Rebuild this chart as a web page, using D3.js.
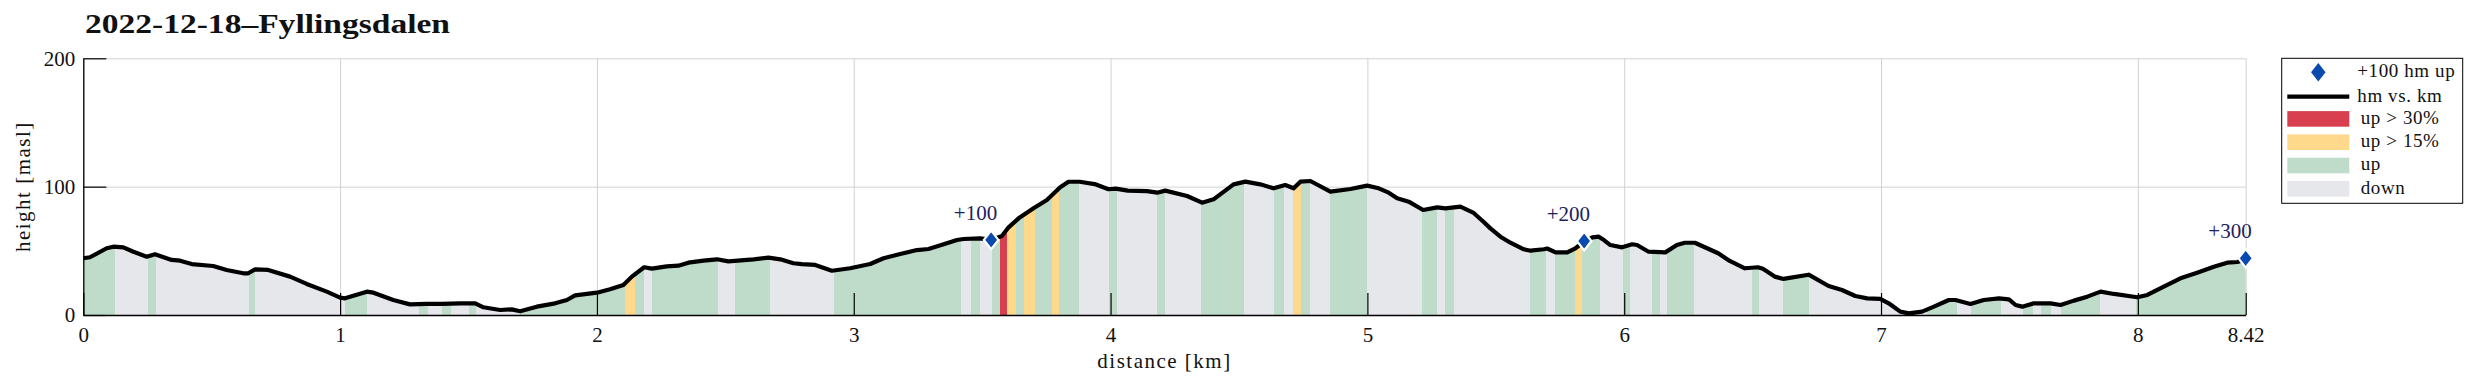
<!DOCTYPE html>
<html>
<head>
<meta charset="utf-8">
<script src="https://cdn.jsdelivr.net/npm/d3@7"></script>
<style>
  body { margin: 0; background: #fff; }
  text { font-family: "Liberation Serif", "Times New Roman", serif; fill: #111; }
</style>
</head>
<body>
<script>
// elevation profile (km, metres above sea level)
var profileKm = [0.000, 0.026, 0.091, 0.117, 0.156, 0.195, 0.247, 0.279, 0.344, 0.377, 0.422, 0.506, 0.558, 0.623, 0.642, 0.669, 0.720, 0.805, 0.870, 0.948,
  1.000, 1.019, 1.104, 1.130, 1.207, 1.272, 1.337, 1.396, 1.467, 1.526, 1.558, 1.623, 1.668, 1.701, 1.766, 1.837, 1.883, 1.915,
  2.000, 2.051, 2.103, 2.136, 2.184, 2.214, 2.272, 2.317, 2.356, 2.415, 2.467, 2.512, 2.610, 2.668, 2.714, 2.765, 2.798, 2.850, 2.915, 2.986,
  3.064, 3.116, 3.181, 3.246, 3.291, 3.350, 3.402, 3.427, 3.492, 3.535, 3.577, 3.603, 3.642, 3.700, 3.752, 3.804, 3.836, 3.880, 3.938, 3.992,
  4.020, 4.067, 4.142, 4.181, 4.213, 4.298, 4.356, 4.401, 4.479, 4.525, 4.583, 4.635, 4.680, 4.713, 4.739, 4.778, 4.856, 4.934, 4.999,
  5.044, 5.083, 5.116, 5.161, 5.217, 5.272, 5.304, 5.362, 5.414, 5.453, 5.479, 5.518, 5.557, 5.609, 5.635, 5.687, 5.700, 5.733, 5.778, 5.810, 5.844, 5.876, 5.901, 5.921, 5.946, 5.992,
  6.031, 6.050, 6.095, 6.160, 6.205, 6.236, 6.275, 6.366, 6.411, 6.470, 6.521, 6.540, 6.586, 6.620, 6.718, 6.796, 6.848, 6.900, 6.946, 6.997,
  7.030, 7.075, 7.108, 7.160, 7.206, 7.264, 7.290, 7.348, 7.400, 7.459, 7.498, 7.524, 7.550, 7.595, 7.660, 7.699, 7.751, 7.803, 7.855, 7.907, 7.998,
  8.037, 8.101, 8.166, 8.231, 8.296, 8.348, 8.388, 8.420];
var profileM = [44.2, 45.0, 52.0, 53.2, 52.7, 49.3, 45.4, 47.3, 42.9, 42.3, 39.7, 38.2, 35.1, 32.5, 32.5, 35.6, 35.1, 29.9, 24.2, 18.2,
  13.5, 13.0, 18.2, 17.4, 11.7, 8.3, 8.6, 8.6, 9.1, 9.1, 6.0, 3.9, 4.4, 2.9, 6.5, 9.1, 11.7, 15.3,
  17.4, 20.0, 23.4, 29.9, 37.2, 36.1, 37.9, 38.4, 40.8, 42.3, 43.4, 41.8, 43.4, 44.7, 43.4, 40.3, 39.7, 39.0, 34.5, 36.4,
  39.7, 44.2, 47.5, 50.6, 51.4, 55.1, 58.4, 59.2, 59.7, 58.5, 61.6, 68.3, 75.3, 83.1, 89.6, 99.5, 103.8, 103.8, 102.0, 98.0,
  98.5, 96.9, 96.5, 95.3, 96.9, 92.7, 87.5, 90.1, 101.8, 103.9, 101.8, 98.7, 101.3, 98.7, 103.9, 104.4, 96.1, 98.2, 100.8,
  98.7, 95.3, 90.9, 88.3, 81.8, 83.9, 83.1, 84.4, 79.5, 72.5, 67.5, 61.0, 56.3, 51.2, 50.1, 51.2, 51.8, 48.8, 48.8, 52.0, 57.0, 60.5, 61.0, 58.4, 54.5, 52.7,
  55.1, 54.5, 49.3, 48.8, 54.5, 56.3, 56.3, 48.1, 42.1, 36.4, 37.2, 36.0, 29.9, 28.1, 31.4, 22.6, 19.5, 14.8, 13.0, 12.5,
  9.1, 2.6, 1.3, 2.6, 6.5, 11.7, 11.7, 8.6, 11.7, 13.0, 12.2, 7.8, 6.5, 9.1, 9.1, 7.8, 11.2, 14.3, 18.2, 16.4, 13.8,
  15.6, 22.1, 28.6, 33.0, 37.6, 40.8, 41.3, 43.5];

// slope classes along the route: edges in km, one class per interval
var bandEdges = [0, 0.123, 0.251, 0.283, 0.645, 0.669, 1.019, 1.104, 1.307, 1.341, 1.398, 1.431, 1.500, 1.530, 1.700,
  2.111, 2.148, 2.184, 2.215, 2.471, 2.538, 2.672, 2.925, 3.419, 3.458, 3.492, 3.538, 3.570, 3.598, 3.633, 3.664, 3.707, 3.772, 3.801, 3.878, 3.992,
  4.025, 4.181, 4.210, 4.354, 4.521, 4.638, 4.677, 4.710, 4.742, 4.778, 4.853, 4.999, 5.214, 5.272, 5.304, 5.339, 5.635, 5.697, 5.729, 5.810, 5.836, 5.907, 5.995,
  6.021, 6.110, 6.138, 6.167, 6.273, 6.498, 6.525, 6.620, 6.720, 7.178, 7.295, 7.352, 7.468, 7.553, 7.592, 7.621, 7.663, 7.699, 7.851, 7.992, 8.42];
var bandKinds = ["up", "down", "up", "down", "up", "down", "up", "down", "up", "down", "up", "down", "up", "down",
  "up", "up15", "up", "down", "up", "down", "up", "down", "up", "down", "up", "down", "up", "up30", "up15", "up", "up15", "up", "up15", "up", "down",
  "up", "down", "up", "down", "up", "down", "up", "down", "up15", "up", "down", "up", "down", "up", "down", "up", "down", "up", "down", "up", "up15", "up", "down",
  "up", "down", "up", "down", "up", "down", "up", "down", "up", "down", "up", "down", "up", "down", "up", "down", "up", "down", "up", "down", "up"];

// every +100 m of climbing
var markerKm = [3.535, 5.844, 8.42];
var markerM = [58.5, 57.6, 44.2];
var markerLabels = ["+100", "+200", "+300"];

var xTickValues = [0, 1, 2, 3, 4, 5, 6, 7, 8, 8.42];
var yTickValues = [0, 100, 200];

var legendLabels = ["+100 hm up", "hm vs. km", "up > 30%", "up > 15%", "up", "down"];
var legendKinds = ["marker", "line", "up30", "up15", "up", "down"];

var kindColor = { up: "#bfdcca", down: "#e6e7eb", up15: "#fed98c", up30: "#d8404f" };

var W = 2474, H = 387;
var svg = d3.select("body").append("svg").attr("width", W).attr("height", H);
svg.append("rect").attr("width", W).attr("height", H).attr("fill", "#fff");

var x = d3.scaleLinear().domain([0, 8.42]).range([83.3, 2245.7]);
var y = d3.scaleLinear().domain([0, 200]).range([315, 58.3]);

// grid
svg.append("g").attr("transform", "translate(0," + y(0) + ")")
  .call(d3.axisBottom(x).tickValues(xTickValues).tickSize(-(y(0) - y(200))).tickFormat(""))
  .call(function(g) { g.select(".domain").remove(); })
  .selectAll("line").attr("stroke", "#d2d2d2").attr("stroke-width", 1);
svg.append("g").attr("transform", "translate(" + x(0) + ",0)")
  .call(d3.axisLeft(y).tickValues(yTickValues).tickSize(-(x(8.42) - x(0))).tickFormat(""))
  .call(function(g) { g.select(".domain").remove(); })
  .selectAll("line").attr("stroke", "#d2d2d2").attr("stroke-width", 1);

// coloured bands under the profile
var profile = profileKm.map(function(k, i) { return { k: k, m: profileM[i] }; });
var area = d3.area().x(function(d) { return x(d.k); }).y0(y(0)).y1(function(d) { return y(d.m); });
svg.append("defs").append("clipPath").attr("id", "under")
  .append("path").attr("d", area(profile));

var bands = d3.pairs(bandEdges).map(function(p, i) { return { a: p[0], b: p[1], kind: bandKinds[i] }; });
svg.append("g").attr("clip-path", "url(#under)")
  .selectAll("rect").data(bands).enter().append("rect")
  .attr("x", function(d) { return x(d.a); })
  .attr("width", function(d) { return x(d.b) - x(d.a) + 0.3; })
  .attr("y", y(200))
  .attr("height", y(0) - y(200))
  .attr("fill", function(d) { return kindColor[d.kind]; })
  .attr("shape-rendering", "crispEdges");

// profile line
var line = d3.line().x(function(d) { return x(d.k); }).y(function(d) { return y(d.m); });
svg.append("path").datum(profile)
  .attr("d", line)
  .attr("fill", "none")
  .attr("stroke", "#000")
  .attr("stroke-width", 4.2)
  .attr("stroke-linejoin", "round");

// axes
var xAxis = svg.append("g").attr("transform", "translate(0," + y(0) + ")")
  .call(d3.axisBottom(x).tickValues(xTickValues)
    .tickFormat(function(d) { return d === 8.42 ? "8.42" : d; })
    .tickSizeInner(-22).tickSizeOuter(0).tickPadding(12));
var yAxis = svg.append("g").attr("transform", "translate(" + x(0) + ",0)")
  .call(d3.axisLeft(y).tickValues(yTickValues).tickSizeInner(-23).tickSizeOuter(0).tickPadding(8));
[xAxis, yAxis].forEach(function(g) {
  g.select(".domain").attr("stroke", "#000").attr("stroke-width", 1.3);
  g.selectAll(".tick line").attr("stroke", "#000").attr("stroke-width", 1.2);
  g.selectAll(".tick text").attr("fill", "#111").style("font-size", "21px")
    .style("font-family", "'Liberation Serif', serif");
});

svg.append("text").attr("x", (x(0) + x(8.42)) / 2).attr("y", 368)
  .attr("text-anchor", "middle").style("font-size", "21px").style("letter-spacing", "1.5px")
  .text("distance [km]");
svg.append("text").attr("transform", "translate(30," + (y(0) + y(200)) / 2 + ") rotate(-90)")
  .attr("text-anchor", "middle").style("font-size", "21px").style("letter-spacing", "1.5px")
  .text("height [masl]");

// +100 hm markers
var diamond = d3.symbol().type(d3.symbolDiamond).size(100);
var markers = svg.append("g").selectAll("g").data(markerKm).enter().append("g");
markers.append("path")
  .attr("d", diamond)
  .attr("transform", function(d, i) { return "translate(" + x(d) + "," + y(markerM[i]) + ") scale(1.35,1)"; })
  .attr("fill", "#0a49ad").attr("stroke", "#fff").attr("stroke-width", 1.8);
markers.append("text")
  .attr("x", function(d) { return x(d) + 6; })
  .attr("y", function(d, i) { return y(markerM[i]) - 20; })
  .attr("text-anchor", "end")
  .style("font-size", "21px").style("fill", "#1c2260")
  .text(function(d, i) { return markerLabels[i]; });

// legend
var lg = svg.append("g").attr("transform", "translate(2281.7,58.3)");
lg.append("rect").attr("width", 181).attr("height", 145)
  .attr("fill", "#fff").attr("stroke", "#000").attr("stroke-width", 1);
legendKinds.forEach(function(kind, i) {
  var cy = 14 + i * 23.3;
  if (i === 1) cy = 38.4;
  if (kind === "marker") {
    lg.append("path").attr("d", diamond)
      .attr("transform", "translate(36.6," + cy + ") scale(1.35,1)")
      .attr("fill", "#0a49ad");
  } else if (kind === "line") {
    lg.append("line").attr("x1", 5.6).attr("x2", 67.6).attr("y1", cy).attr("y2", cy)
      .attr("stroke", "#000").attr("stroke-width", 4.2);
  } else {
    lg.append("rect").attr("x", 5.6).attr("y", cy - 7.8).attr("width", 62).attr("height", 15.6)
      .attr("fill", kindColor[kind]);
  }
  lg.append("text").attr("x", i < 2 ? 75.6 : 79).attr("y", cy + 5)
    .style("font-size", "19px").style("letter-spacing", "0.6px")
    .text(legendLabels[i]);
});

// title
svg.append("text").attr("x", 85).attr("y", 33)
  .attr("textLength", 365).attr("lengthAdjust", "spacingAndGlyphs")
  .style("font-size", "27px").style("font-weight", "bold")
  .text("2022-12-18–Fyllingsdalen");
</script>
</body>
</html>
